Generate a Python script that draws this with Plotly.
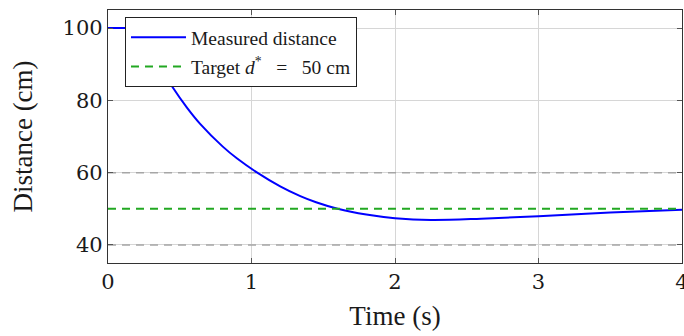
import plotly.graph_objects as go

time_s = [0.0, 0.06, 0.12, 0.2, 0.28, 0.36, 0.4, 0.454, 0.55, 0.642, 0.8, 0.9, 1.04, 1.2,
          1.34, 1.45, 1.6, 1.8, 2.0, 2.25, 2.6, 3.0, 3.5, 4.0]
distance_cm = [100.0, 100.0, 100.0, 99.3, 95.5, 89.9, 87.0, 83.4, 78.0, 73.5, 67.2, 63.9,
               60.0, 56.2, 53.5, 51.8, 50.0, 48.4, 47.4, 46.9, 47.25, 47.95, 48.95, 49.7]

target_value = 50
band_values = [40, 60]
x_span = [0, 4]

x_ticks = [0, 1, 2, 3, 4]
y_ticks = [40, 60, 80, 100]

FONT = "Liberation Serif"
TICK_FONT = "DejaVu Serif"

fig = go.Figure()

for v in band_values:
    fig.add_trace(go.Scatter(x=x_span, y=[v, v], mode="lines",
                             line=dict(color="#a6a6a6", width=1.5, dash="8px,6px"),
                             showlegend=False, hoverinfo="skip"))

fig.add_trace(go.Scatter(x=time_s, y=distance_cm, mode="lines", name="Measured distance",
                         line=dict(color="#0000ff", width=2, shape="spline", smoothing=1.0),
                         legendgroup="a"))

fig.add_trace(go.Scatter(x=x_span, y=[target_value, target_value], mode="lines",
                         name="Target <i>d</i><sup>*</sup>&nbsp;&nbsp; = &nbsp;&nbsp;50 cm",
                         line=dict(color="#22a822", width=2, dash="8px,6px"), legendgroup="b"))

fig.update_layout(
    width=684, height=336,
    margin=dict(l=108, r=2, t=10, b=73),
    paper_bgcolor="white", plot_bgcolor="white",
    font=dict(family=FONT, size=25, color="#1a1a1a"),
    showlegend=True,
    legend=dict(x=0.0296, y=0.972, xanchor="left", yanchor="top",
                bgcolor="white", bordercolor="#222", borderwidth=1,
                font=dict(family=FONT, size=19.5, color="#1a1a1a"),
                tracegroupgap=1, itemwidth=55),
)

fig.update_xaxes(range=[0, 4], tickvals=x_ticks, showgrid=True, gridcolor="#d6d6d6", gridwidth=1,
                 showline=True, linecolor="#333", linewidth=1.2, mirror="ticks",
                 ticks="inside", ticklen=5, tickcolor="#555", zeroline=False, automargin=False,
                 ticklabeloverflow="allow",
                 title=dict(text="Time (s)", font=dict(size=27), standoff=12),
                 tickfont=dict(family=TICK_FONT, size=21))
fig.update_yaxes(range=[35, 105], tickvals=y_ticks, showgrid=True, gridcolor="#d6d6d6", gridwidth=1,
                 showline=True, linecolor="#333", linewidth=1.2, mirror="ticks",
                 ticks="inside", ticklen=5, tickcolor="#555", zeroline=False, automargin=False,
                 ticklabeloverflow="allow",
                 title=dict(text="Distance (cm)", font=dict(size=27), standoff=22),
                 tickfont=dict(family=TICK_FONT, size=21))

fig.write_html("out.html", config={"displayModeBar": False},
               post_script="document.body.style.margin='0';")
